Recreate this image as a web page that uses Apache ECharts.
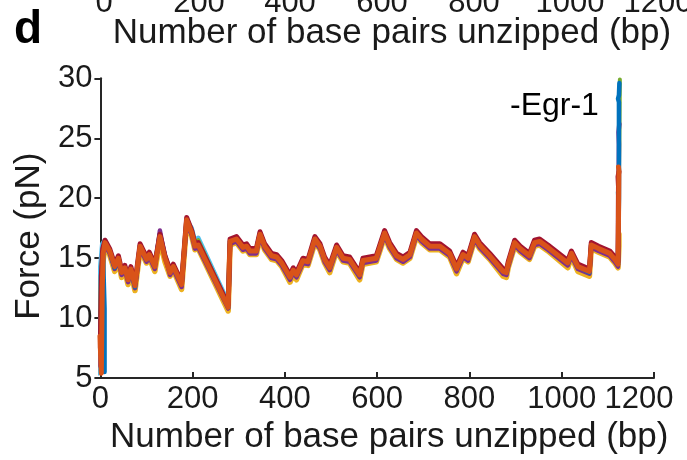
<!DOCTYPE html>
<html>
<head>
<meta charset="utf-8">
<script src="https://cdn.jsdelivr.net/npm/echarts@6/dist/echarts.min.js"></script>
<style>
  html, body { margin: 0; padding: 0; background: #ffffff; }
  #chart { width: 687px; height: 460px; }
</style>
</head>
<body>
<div id="chart"></div>
<script>
// Unzipping force traces (pN) versus number of base pairs unzipped (bp), repeated pulls.
const xTicks = [0, 200, 400, 600, 800, 1000, 1200];
const yTicks = [5, 10, 15, 20, 25, 30];

// Shared base-pair positions for the body of every trace
const bp = [10,20,31,39,46,53,60,66,75,86,100,106,118,129,140,151,158,176,187,198,
  205,212,277,281,295,309,317,324,338,346,356,371,382,393,411,418,425,439,450,465,
  476,486,497,512,526,540,562,569,598,616,627,642,656,671,685,696,714,736,757,772,
  786,797,811,822,844,873,880,884,898,910,930,941,952,970,1013,1021,1035,1060,1064,1080,
  1104,1115,1122];

const forceOrange = [16.3,15.6,14.3,15.0,13.8,14.2,13.2,14.1,12.7,16.0,
  14.9,15.3,14.3,16.8,15.0,13.8,14.3,12.8,18.2,17.1,
  16.0,16.1,10.9,16.4,16.6,15.9,16.0,15.6,15.6,17.0,
  16.0,15.2,15.1,14.6,13.4,14.0,13.6,14.8,14.7,16.6,
  16.0,14.9,14.2,15.9,15.0,14.9,13.6,14.8,15.0,17.1,
  16.1,15.2,14.9,15.3,17.1,16.6,16.0,16.0,15.4,14.1,
  15.3,15.0,16.8,16.1,15.2,13.9,13.8,14.5,16.3,15.8,
  15.2,16.3,16.4,15.9,14.6,15.4,14.3,13.9,16.1,15.8,
  15.4,14.9,14.5];
const forceYellow = [16.0,15.3,13.9,14.7,13.4,13.9,12.8,13.8,12.3,15.7,
  14.6,15.0,13.9,16.5,14.7,13.5,14.0,12.4,17.9,16.8,
  15.7,15.8,10.6,16.1,16.3,15.6,15.7,15.3,15.3,16.7,
  15.7,14.9,14.8,14.3,13.0,13.7,13.2,14.5,14.4,16.3,
  15.7,14.6,13.8,15.6,14.7,14.6,13.2,14.5,14.7,16.8,
  15.8,14.9,14.6,15.0,16.8,16.3,15.7,15.7,15.1,13.7,
  15.0,14.7,16.5,15.8,14.9,13.5,13.4,14.2,16.0,15.5,
  14.9,16.0,16.1,15.6,14.2,15.1,13.9,13.5,15.8,15.5,
  15.1,14.6,14.2];
const forceDarkRed = [16.5,15.8,14.5,15.2,14.0,14.4,13.4,14.3,12.9,16.2,
  15.1,15.5,14.5,17.0,15.2,14.0,14.5,13.0,18.4,17.3,
  16.2,16.3,11.1,16.6,16.8,16.1,16.2,15.8,15.8,17.2,
  16.2,15.4,15.3,14.8,13.6,14.2,13.8,15.0,14.9,16.8,
  16.2,15.1,14.4,16.1,15.2,15.1,13.8,15.0,15.2,17.3,
  16.3,15.4,15.1,15.5,17.3,16.8,16.2,16.2,15.6,14.3,
  15.5,15.2,17.0,16.3,15.4,14.1,14.0,14.7,16.5,16.0,
  15.4,16.5,16.6,16.1,14.8,15.6,14.5,14.1,16.3,16.0,
  15.6,15.1,14.7];
const forceBlue = [16.4,15.6,14.2,15.0,13.8,14.3,13.2,14.1,12.6,16.1,
  14.9,15.4,14.5,17.0,15.2,13.9,14.3,12.9,18.2,17.2,
  16.1,16.2,10.9,16.4,16.7,16.0,16.1,15.6,15.7,17.1,
  16.1,15.3,15.2,14.6,13.4,14.0,13.6,14.9,14.8,16.7,
  16.1,15.0,14.2,16.0,15.1,15.0,13.6,14.9,15.1,17.2,
  16.2,15.3,15.0,15.4,17.2,16.7,16.1,16.1,15.5,14.1,
  15.4,15.1,16.9,16.2,15.3,13.9,13.8,14.5,16.4,15.9,
  15.3,16.4,16.5,16.0,14.6,15.5,14.3,13.8,16.2,15.9,
  15.5,15.0,14.5];
const forcePurple = [16.1,15.4,14.1,14.8,13.6,14.0,13.0,13.9,12.5,15.8,
  14.7,15.1,14.1,17.3,15.1,13.6,14.1,12.6,18.0,16.9,
  15.8,15.9,10.8,16.2,16.4,15.7,15.8,15.4,15.4,16.8,
  15.8,15.0,14.9,14.4,13.2,13.8,13.4,14.6,14.5,16.4,
  15.8,14.7,14.0,15.7,14.8,14.7,13.4,14.6,14.8,16.9,
  15.9,15.0,14.7,15.1,16.9,16.4,15.8,15.8,15.2,13.9,
  15.1,14.8,16.6,15.9,15.0,13.7,13.6,14.3,16.1,15.6,
  15.0,16.1,16.2,15.7,14.4,15.2,14.1,13.7,15.9,15.6,
  15.2,14.7,14.3];
const forceLightBlue = [16.5,15.7,14.4,15.1,13.9,14.3,13.3,14.2,12.8,16.1,
  15.0,15.4,14.4,16.9,15.1,13.9,14.4,12.9,18.2,17.5,
  16.4,16.7,11.3,16.5,16.7,16.0,16.1,15.7,15.7,17.1,
  16.1,15.3,15.2,14.7,13.5,14.1,13.7,14.9,14.8,16.7,
  16.1,15.0,14.3,16.0,15.1,15.0,13.7,14.9,15.1,17.2,
  16.2,15.3,15.0,15.4,17.2,16.7,16.1,16.1,15.5,14.2,
  15.4,15.1,16.9,16.2,15.3,14.0,13.9,14.6,16.4,15.9,
  15.3,16.4,16.5,16.0,14.7,15.5,14.4,14.0,16.2,15.9,
  15.5,15.0,14.6];
const forceGreen = [16.4,15.6,14.3,15.0,13.8,14.2,13.2,14.1,12.7,16.0,
  14.9,15.3,14.3,16.8,15.0,13.8,14.3,12.8,18.2,17.3,
  16.3,16.5,11.1,16.4,16.6,15.9,16.0,15.6,15.6,17.0,
  16.0,15.2,15.1,14.6,13.4,14.0,13.6,14.8,14.7,16.6,
  16.0,14.9,14.2,15.9,15.0,14.9,13.6,14.8,15.0,17.1,
  16.1,15.2,14.9,15.3,17.1,16.6,16.0,16.0,15.4,14.1,
  15.3,15.0,16.8,16.1,15.2,13.9,13.8,14.5,16.3,15.8,
  15.2,16.3,16.4,15.9,14.6,15.4,14.3,13.9,16.1,15.8,
  15.4,14.9,14.5];

// Initial loading segment [bp, pN] of each trace
const startYellow = [[1, 5.6], [3, 11.0], [5, 14.5]];
const startLightBlue = [[-4, 5.4], [-3, 8.5], [-1, 14.0], [4, 16.2]];
const startGreen = [[-2, 7.0], [1, 13.5], [5, 15.6]];
const startPurple = [[0, 6.0], [2, 13.0], [5, 15.3]];
const startBlue = [[9, 5.5], [9, 10.8], [7, 13.5], [6, 15.5]];
const startDarkRed = [[0, 7.5], [2, 13.5], [5, 15.8]];
const startOrange = [[-1, 8.5], [2, 5.4], [4, 12.5], [6, 15.4]];

// Final rise at the end of the construct [bp, pN]
const endYellow = [[1124, 16.0], [1124, 17.0]];
const endLightBlue = [[1123, 20.0], [1122, 20.5]];
const endGreen = [[1125, 25.0], [1126, 29.9]];
const endPurple = [[1124, 24.5], [1123, 25.5], [1125, 26.2]];
const endBlue = [[1124, 20.0], [1124, 28.0], [1122, 28.3], [1124, 28.6], [1125, 29.6]];
const endDarkRed = [[1123, 21.0], [1122, 21.8], [1124, 22.2]];
const endOrange = [[1123, 18.0], [1124, 22.3], [1123, 22.6]];

const FONT = "'Liberation Sans', Arial, Helvetica, sans-serif";
const INK = '#1a1a1a';
const AXIS = '#262626';

function trace(start, values, end) {
  const pts = start.slice();
  for (let i = 0; i < bp.length; i++) pts.push([bp[i], values[i]]);
  return pts.concat(end);
}

const traces = [
  { name: 'yellow', color: '#EDB120', width: 5.5, data: trace(startYellow, forceYellow, endYellow) },
  { name: 'lightblue', color: '#4DBEEE', width: 4.5, data: trace(startLightBlue, forceLightBlue, endLightBlue) },
  { name: 'green', color: '#77AC30', width: 4, data: trace(startGreen, forceGreen, endGreen) },
  { name: 'purple', color: '#7E2F8E', width: 4.5, data: trace(startPurple, forcePurple, endPurple) },
  { name: 'blue', color: '#0072BD', width: 4.5, data: trace(startBlue, forceBlue, endBlue) },
  { name: 'darkred', color: '#A2142F', width: 5, data: trace(startDarkRed, forceDarkRed, endDarkRed) },
  { name: 'orange', color: '#D95319', width: 5, data: trace(startOrange, forceOrange, endOrange) }
];

const chart = echarts.init(document.getElementById('chart'), null, { renderer: 'canvas' });

// Upper strip: bottom edge of the neighbouring panel's x axis
const upperTickCenters = [104, 199, 290, 382, 474, 570, 658];
const graphics = xTicks.map((t, i) => ({
  type: 'text',
  x: upperTickCenters[i],
  y: 3,
  style: { text: String(t), font: '31px ' + FONT, fill: INK, align: 'center', verticalAlign: 'middle' }
}));
graphics.push({
  type: 'text', x: 392, y: 33,
  style: { text: 'Number of base pairs unzipped (bp)', font: '35px ' + FONT, fill: INK, align: 'center', verticalAlign: 'middle' }
});
graphics.push({
  type: 'text', x: 14, y: 30,
  style: { text: 'd', font: 'bold 46px ' + FONT, fill: '#000000', align: 'left', verticalAlign: 'middle' }
});
graphics.push({
  type: 'text', x: 510, y: 106,
  style: { text: '-Egr-1', font: '32px ' + FONT, fill: '#000000', align: 'left', verticalAlign: 'middle' }
});

chart.setOption({
  animation: false,
  backgroundColor: '#ffffff',
  grid: { left: 100.4, right: 33, top: 78.3, bottom: 81, containLabel: false },
  xAxis: {
    type: 'value', min: xTicks[0], max: xTicks[xTicks.length - 1], interval: 200,
    name: 'Number of base pairs unzipped (bp)', nameLocation: 'middle', nameGap: 36,
    nameTextStyle: { fontFamily: FONT, fontSize: 35, color: INK, padding: [0, 0, 0, 24] },
    axisLine: { show: true, onZero: false, lineStyle: { color: AXIS, width: 2 } },
    axisTick: { show: true, inside: true, length: 6, lineStyle: { color: AXIS, width: 2 } },
    axisLabel: {
      fontFamily: FONT, fontSize: 31, color: INK, margin: 6,
      formatter: v => (v === 1200 ? '{last|' + v + '}' : String(v)),
      rich: { last: { fontFamily: FONT, fontSize: 31, color: INK, padding: [0, 30, 0, 0] } }
    },
    splitLine: { show: false }
  },
  yAxis: {
    type: 'value', min: yTicks[0], max: yTicks[yTicks.length - 1], interval: 5,
    name: 'Force (pN)', nameLocation: 'middle', nameGap: 53,
    nameTextStyle: { fontFamily: FONT, fontSize: 35, color: INK, padding: [0, 16, 0, 0] },
    axisLine: { show: true, onZero: false, lineStyle: { color: AXIS, width: 2 } },
    axisTick: { show: true, inside: false, length: 6, lineStyle: { color: AXIS, width: 2 } },
    axisLabel: { fontFamily: FONT, fontSize: 31, color: INK, margin: 8 },
    splitLine: { show: false }
  },
  graphic: graphics,
  series: traces.map(t => ({
    type: 'line',
    name: t.name,
    data: t.data,
    showSymbol: false,
    symbol: 'none',
    clip: false,
    smooth: false,
    lineStyle: { color: t.color, width: t.width, cap: 'round', join: 'round' },
    emphasis: { disabled: true }
  }))
});
</script>
</body>
</html>
